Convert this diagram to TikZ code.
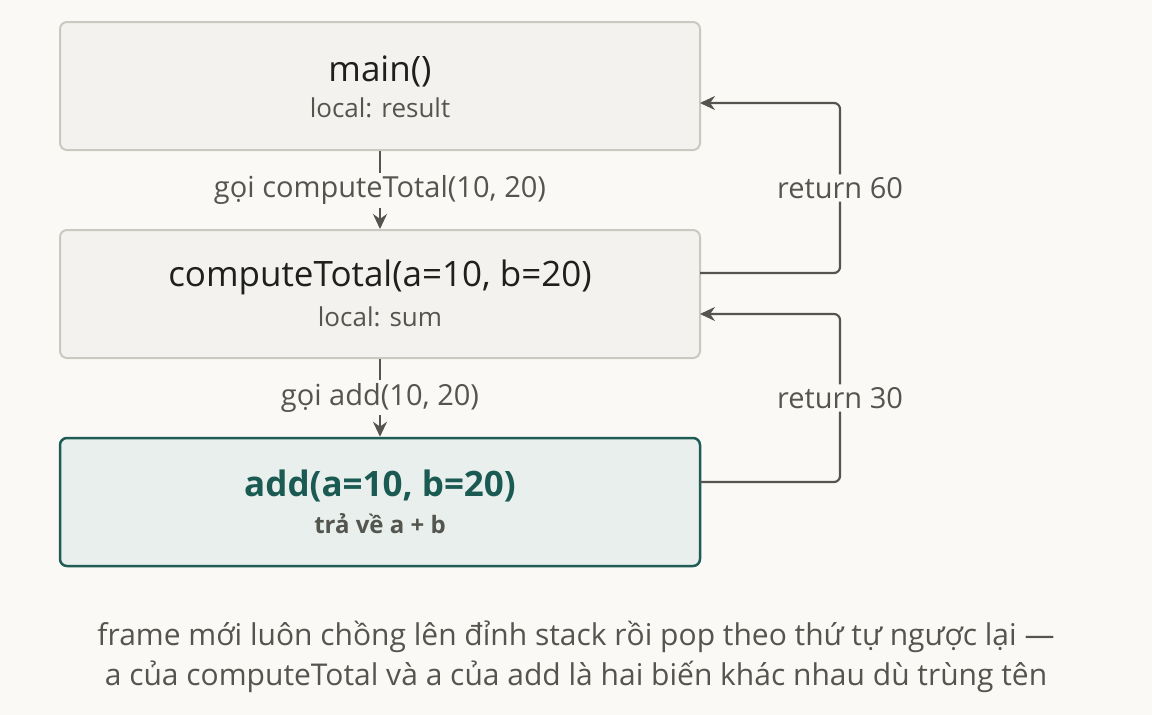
\documentclass[tikz,border=0pt]{standalone}
\usepackage{fontspec}
\setmainfont{Open Sans}
\usetikzlibrary{arrows.meta}
\definecolor{bg}{HTML}{FAF9F6}
\definecolor{bfill}{HTML}{F3F2EF}
\definecolor{bline}{HTML}{C9C8C1}
\definecolor{afill}{HTML}{E8EFEC}
\definecolor{aline}{HTML}{1F5C55}
\definecolor{atext}{HTML}{1A5A52}
\definecolor{ink}{HTML}{555550}
\definecolor{tx}{HTML}{1F1F1C}
\definecolor{sub}{HTML}{555550}
\begin{document}
\begin{tikzpicture}[x=1pt,y=-1pt,
  box/.style={draw=bline,fill=bfill,line width=2pt,rounded corners=7pt,minimum width=640pt,minimum height=128pt,inner sep=0pt},
  abox/.style={box,draw=aline,fill=afill,line width=2.5pt},
  arr/.style={draw=ink,line width=2.2pt,-{Stealth[length=15pt,width=14pt]}},
  lab/.style={fill=bg,text=sub,font=\fontsize{29}{34}\selectfont,inner sep=3pt}]
\fill[bg] (0,0) rectangle (1152,715);
\useasboundingbox (0,0) rectangle (1152,715);
\node[box] (main) at (380,86) {};
\node[box] (comp) at (380,294) {};
\node[abox] (add) at (380,502) {};
\node[text=tx,font=\fontsize{35}{40}\selectfont] at (380,71) {main()};
\node[text=sub,font=\fontsize{26}{30}\selectfont] at (380,108) {local: result};
\node[text=tx,font=\fontsize{35}{40}\selectfont] at (380,277) {computeTotal(a=10, b=20)};
\node[text=sub,font=\fontsize{26}{30}\selectfont] at (380,317) {local: sum};
\node[text=atext,font=\fontsize{35}{40}\selectfont\bfseries] at (380,486) {add(a=10, b=20)};
\node[text=sub,font=\fontsize{24}{28}\selectfont\bfseries] at (380,524) {trả về a + b};
\draw[arr] (main.south) -- (comp.north) node[midway,lab] {gọi computeTotal(10, 20)};
\draw[arr] (comp.south) -- (add.north) node[midway,lab] {gọi add(10, 20)};
\coordinate (r1) at (700,273);
\coordinate (r1e) at (700,103);
\coordinate (r2) at (700,482);
\coordinate (r2e) at (700,314);
\draw[arr,rounded corners=6pt] (r1) -- (840,273) -- node[lab]{return 60} (840,103) -- (r1e);
\draw[arr,rounded corners=6pt] (r2) -- (840,482) -- node[lab]{return 30} (840,314) -- (r2e);
\node[text=sub,font=\fontsize{30}{40}\selectfont,align=center] (cap) at (576,657) {frame mới luôn chồng lên đỉnh stack rồi pop theo thứ tự ngược lại —\\a của computeTotal và a của add là hai biến khác nhau dù trùng tên};
\end{tikzpicture}
\end{document}
